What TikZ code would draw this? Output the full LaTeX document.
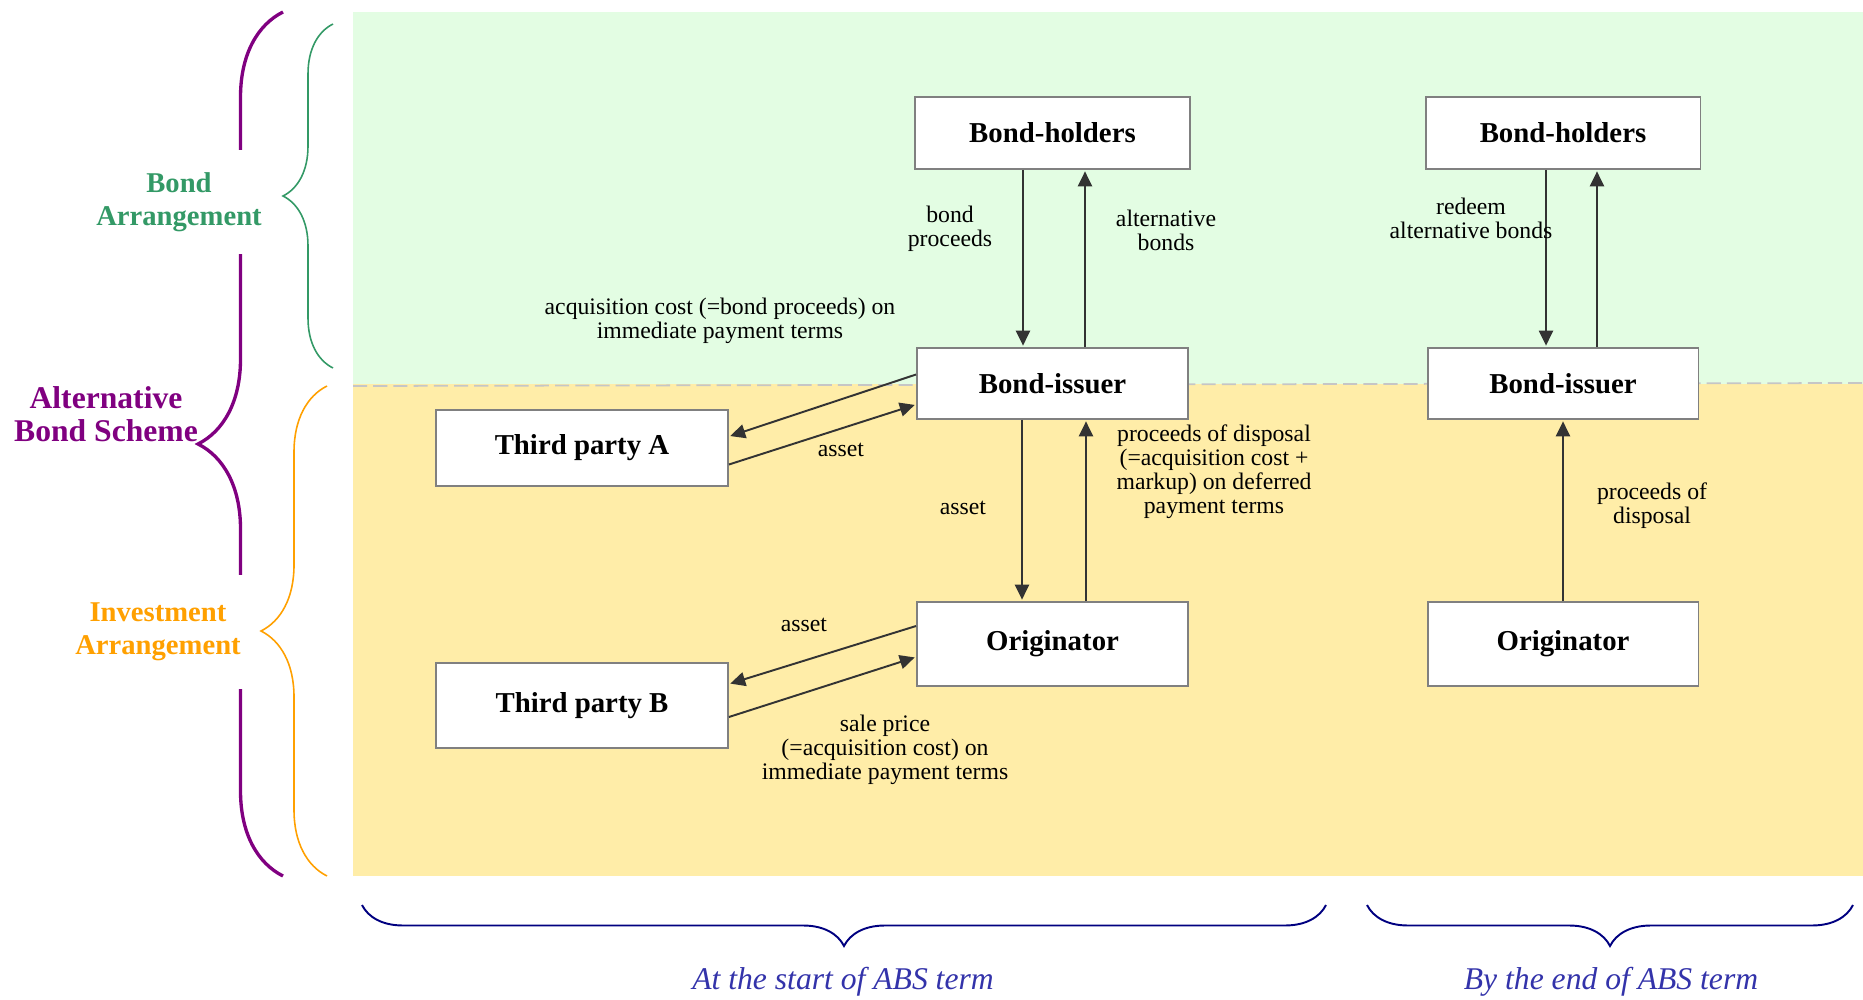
\documentclass[tikz,border=0pt]{standalone}
\usepackage{fontspec}
\setmainfont{Liberation Serif}
\usetikzlibrary{arrows.meta,decorations.pathreplacing}

\definecolor{bondbg}{RGB}{227,253,227}
\definecolor{investbg}{RGB}{255,237,168}
\definecolor{bondgreen}{RGB}{51,153,102}
\definecolor{investorange}{RGB}{255,160,0}
\definecolor{schemepurple}{RGB}{128,0,128}
\definecolor{bracenavy}{RGB}{0,0,128}
\definecolor{termblue}{RGB}{51,51,170}
\definecolor{flowgray}{RGB}{51,51,51}

\begin{document}
\begin{tikzpicture}[x=0.02cm, y=-0.02cm,
  party/.style={draw=gray, line width=1.1pt, fill=white, font=\fontsize{16.4}{19}\selectfont\bfseries, minimum width=5.42cm, minimum height=1.42cm},
  flow/.style={draw=flowgray, line width=1.1pt, shorten >=0.8pt, -{Triangle[length=8.5pt,width=8pt]}},
  note/.style={align=center, font=\fontsize{13.5}{13.6}\selectfont, inner sep=1pt},
  side/.style={align=center, font=\fontsize{16.3}{18.7}\selectfont\bfseries, inner xsep=2pt},
  term/.style={font=\fontsize{18}{20}\selectfont\itshape, text=termblue}]

\useasboundingbox (0,0) rectangle (1863,1000);

\fill[bondbg] (353,12) rectangle (1863,384);
\fill[investbg] (353,384) rectangle (1863,876);
\draw[gray!45, line width=1pt, dash pattern=on 8pt off 3.5pt] (353,386) -- (1863,383);

\node[party, minimum width=5.5cm, minimum height=1.44cm] (holdA) at (1052.5,133) {Bond-holders};
\node[party, minimum width=5.5cm, minimum height=1.44cm] (holdB) at (1563,133) {Bond-holders};
\node[party] (issuerA) at (1052.5,383.5) {Bond-issuer};
\node[party] (issuerB) at (1563,383.5) {Bond-issuer};
\node[party, minimum width=5.84cm, minimum height=1.52cm] (thirdA) at (582,448) {Third party A};
\node[party, minimum height=1.68cm] (origA) at (1052.5,644) {Originator};
\node[party, minimum height=1.68cm] (origB) at (1563,644) {Originator};
\node[party, minimum width=5.84cm, minimum height=1.7cm] (thirdB) at (582,705.5) {Third party B};

\draw[flow] ([xshift=-0.59cm]holdA.south) -- ([xshift=-0.59cm]issuerA.north);
\draw[flow] ([xshift=0.65cm]issuerA.north) -- ([xshift=0.65cm]holdA.south);
\draw[flow] ([xshift=-0.61cm]issuerA.south) -- ([xshift=-0.61cm]origA.north);
\draw[flow] ([xshift=0.67cm]origA.north) -- ([xshift=0.67cm]issuerA.south);
\draw[flow] ([xshift=-0.34cm]holdB.south) -- ([xshift=-0.34cm]issuerB.north);
\draw[flow] ([xshift=0.68cm]issuerB.north) -- ([xshift=0.68cm]holdB.south);
\draw[flow] (origB) -- (issuerB);

\draw[flow] ([yshift=0.18cm]issuerA.west) -- ([yshift=0.23cm]thirdA.east);
\draw[flow] ([yshift=-0.33cm]thirdA.east) -- ([yshift=-0.42cm]issuerA.west);
\draw[flow] ([yshift=0.36cm]origA.west) -- ([yshift=0.43cm]thirdB.east);
\draw[flow] ([yshift=-0.23cm]thirdB.east) -- ([yshift=-0.26cm]origA.west);

\node[note] (bondproceeds) at (950,229) {bond\\proceeds};
\node[note] (altbonds) at (1166,230) {alternative\\bonds};
\node[note] (acqcost) at (720,321) {acquisition cost (=bond proceeds) on\\immediate payment terms};
\node[note] (assetA) at (841,450) {asset};
\node[note] (assetmid) at (963,508) {asset};
\node[note] (disposalA) at (1214,472) {proceeds of disposal\\(=acquisition cost +\\markup) on deferred\\payment terms};
\node[note] (assetB) at (804,625) {asset};
\node[note] (saleprice) at (885,750) {sale price\\(=acquisition cost) on\\immediate payment terms};
\node[note] (redeem) at (1471,218) {redeem\\alternative bonds};
\node[note] (disposalB) at (1652,506) {proceeds of\\disposal};

\draw[schemepurple, line width=1.9pt, decorate, decoration={brace, amplitude=1.7cm}] (283,876) -- (283,12);
\draw[bondgreen, line width=0.9pt, decorate, decoration={brace, amplitude=1cm}] (333,368) -- (333,24);
\draw[investorange, line width=0.9pt, decorate, decoration={brace, amplitude=1.32cm}] (327,876) -- (327,386);

\node[side, text=bondgreen, fill=white, inner ysep=13pt] (bondarr) at (179,202) {Bond\\Arrangement};
\node[side, text=schemepurple, font=\fontsize{18}{18.7}\selectfont\bfseries] (scheme) at (106,414) {Alternative\\Bond Scheme};
\node[side, text=investorange, fill=white, inner ysep=16pt] (investarr) at (158,632) {Investment\\Arrangement};

\draw[bracenavy, line width=1.1pt, decorate, decoration={brace, amplitude=0.82cm}] (1326,905) -- (362,905);
\draw[bracenavy, line width=1.1pt, decorate, decoration={brace, amplitude=0.82cm}] (1853,905) -- (1367,905);
\node[term] (startterm) at (843,982) {At the start of ABS term};
\node[term] (endterm) at (1611,982) {By the end of ABS term};

\end{tikzpicture}
\end{document}
